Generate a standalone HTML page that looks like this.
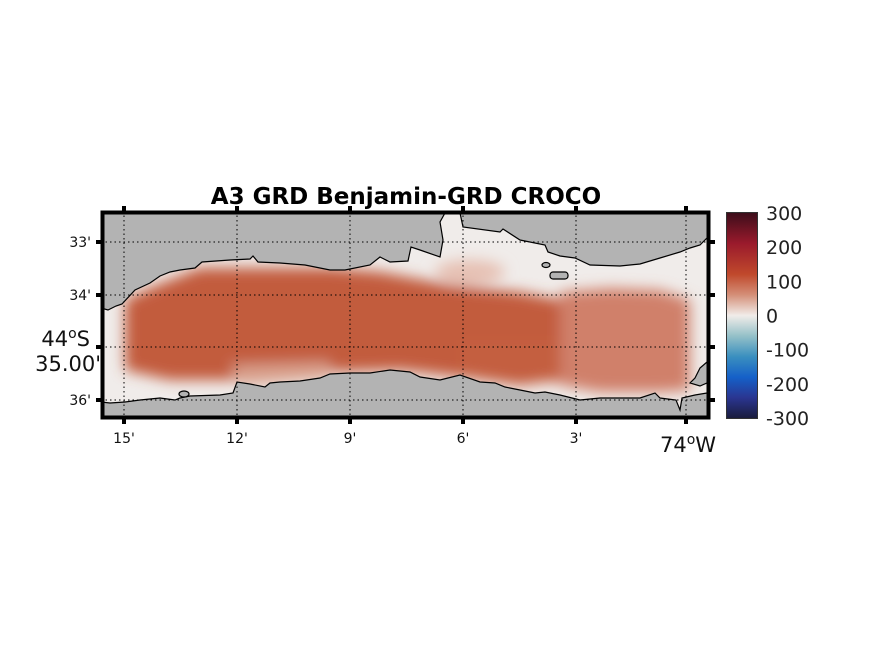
<!DOCTYPE html>
<html><head><meta charset="utf-8"><style>
html,body{margin:0;padding:0;background:#fff;}
svg text{font-family:"DejaVu Sans","Liberation Sans",sans-serif;}
</style></head><body>
<svg width="875" height="656" viewBox="0 0 875 656" xmlns="http://www.w3.org/2000/svg">
<defs>
<filter id="blur" x="-20%" y="-50%" width="140%" height="200%"><feGaussianBlur stdDeviation="7"/></filter>
<clipPath id="frameclip"><rect x="101" y="211" width="609" height="208"/></clipPath>
<linearGradient id="cbar" x1="0" y1="0" x2="0" y2="1">
<stop offset="0" stop-color="#3c0d1a"/><stop offset="0.15" stop-color="#9a1a2c"/><stop offset="0.3" stop-color="#c0492c"/>
<stop offset="0.4" stop-color="#d48f78"/><stop offset="0.5" stop-color="#f1ece9"/><stop offset="0.6" stop-color="#94c0c8"/>
<stop offset="0.7" stop-color="#3a8fbf"/><stop offset="0.8" stop-color="#1560c8"/><stop offset="0.9" stop-color="#2a3590"/><stop offset="1" stop-color="#1a1c3c"/>
</linearGradient>
</defs>
<text x="406" y="204" text-anchor="middle" font-size="23" font-weight="bold">A3 GRD Benjamin-GRD CROCO</text>
<g clip-path="url(#frameclip)">
<rect x="101" y="211" width="609" height="208" fill="#f0ecea"/>
<g filter="url(#blur)">
<polygon fill="#c25b3d" points="125,300 150,288 200,268 330,268 380,272 450,285 520,292 560,300 560,380 520,385 470,378 400,370 330,372 250,380 170,380 125,370"/>
<polygon fill="#d0806a" points="560,292 610,288 660,290 690,300 690,390 660,392 600,392 560,385"/>
<polygon fill="#c45e40" points="460,340 560,340 560,382 460,375"/>
<polygon fill="#d9a08c" points="230,365 330,362 330,378 240,385"/>
<ellipse cx="470" cy="272" rx="35" ry="12" fill="#e6c0b2"/>
</g>
<polygon fill="#b3b3b3" stroke="#000" stroke-width="1.2"
points="101,211 712,211 712,238 707,238 700,245 690,248 680,252 660,258 640,264 620,266 590,265 575,258 560,256 548,252 545,245 520,240 503,229 500,232 463,227 460,213 445,213 440,222 443,240 440,257 420,250 411,247 408,261 390,262 380,257 370,265 345,270 330,270 305,265 280,263 258,262 253,256 250,259 230,260 202,262 195,268 180,270 170,272 160,276 150,283 135,290 122,304 116,306 108,310 101,308"/>
<polygon fill="#b3b3b3" stroke="#000" stroke-width="1.2"
points="101,402 110,403 125,402 140,400 160,398 175,400 180,398 190,396 220,395 233,393 237,382 250,384 265,387 270,383 280,382 300,381 320,378 330,374 350,373 370,373 390,370 410,372 420,377 440,380 460,375 480,382 495,383 505,387 520,390 535,393 545,392 560,395 580,400 600,398 640,398 655,393 660,398 676,400 680,410 682,398 695,395 707,393 712,393 712,425 101,425"/>
<polygon fill="#b3b3b3" stroke="#000" stroke-width="1.2" points="712,362 707,362 700,368 695,378 690,383 700,386 707,383 712,383"/>
<ellipse cx="184" cy="394" rx="5" ry="3" fill="#b3b3b3" stroke="#000" stroke-width="1.2"/>
<ellipse cx="546" cy="265" rx="4" ry="2.5" fill="#b3b3b3" stroke="#000" stroke-width="1.2"/>
<rect x="550" y="272" width="18" height="7" rx="3" fill="#b3b3b3" stroke="#000" stroke-width="1.2"/>
<g id="grid" stroke="#000" stroke-width="1" stroke-dasharray="1.5,3"></g>
</g>
<rect x="102.5" y="212.5" width="606" height="205" fill="none" stroke="#000" stroke-width="4"/>
<g id="ticks"></g>
<text x="90" y="346" text-anchor="end" font-size="21" fill="#111">44<tspan dy="-8" font-size="14">o</tspan><tspan dy="8">S</tspan></text>
<text x="101" y="371" text-anchor="end" font-size="21" fill="#111">35.00'</text>
<text x="688" y="452" text-anchor="middle" font-size="21" fill="#111">74<tspan dy="-8" font-size="14">o</tspan><tspan dy="8">W</tspan></text>
<rect x="726.5" y="212.5" width="31" height="206" fill="url(#cbar)" stroke="#333" stroke-width="1"/>
<g id="cbticks"></g>
<script>
const lonLabels=["15'","12'","9'","6'","3'",""];
const lonPix=[124,237,350,463,576,686];
const latLabels=["33'","34'","","36'"];
const latPix=[242,295,347,400];
const cbLabels=["300","200","100","0","-100","-200","-300"];
const NS="http://www.w3.org/2000/svg";
const grid=document.getElementById('grid'),ticks=document.getElementById('ticks'),cb=document.getElementById('cbticks');
function mk(p,tag,attrs){const e=document.createElementNS(NS,tag);for(const k in attrs)e.setAttribute(k,attrs[k]);p.appendChild(e);return e;}
lonPix.forEach((x,i)=>{
  const g=mk(grid,'line',{x1:x,y1:211,x2:x,y2:419});
  
  
  [[206,211],[419,424]].forEach(([a,b])=>{const t=mk(ticks,'line',{x1:x,y1:a,x2:x,y2:b,stroke:'#000','stroke-width':4});
  
  });
  if(lonLabels[i]){const t=mk(ticks,'text',{x:x,y:443,'text-anchor':'middle','font-size':14,fill:'#111'});t.textContent=lonLabels[i];
  
  }
});
latPix.forEach((y,i)=>{
  const g=mk(grid,'line',{x1:101,y1:y,x2:710,y2:y});
  
  
  [[96,101],[710,715]].forEach(([a,b])=>{const t=mk(ticks,'line',{x1:a,y1:y,x2:b,y2:y,stroke:'#000','stroke-width':4});
  
  });
  if(latLabels[i]){const t=mk(ticks,'text',{x:91,y:y+5,'text-anchor':'end','font-size':14,fill:'#111'});t.textContent=latLabels[i];
  
  }
});
cbLabels.forEach((l,i)=>{
  const y=213+i*(205/(cbLabels.length-1));
  const t=mk(cb,'text',{x:766,y:y+7,'font-size':19,fill:'#222'});t.textContent=l;
  
  
});
</script>
</svg>
</body></html>
